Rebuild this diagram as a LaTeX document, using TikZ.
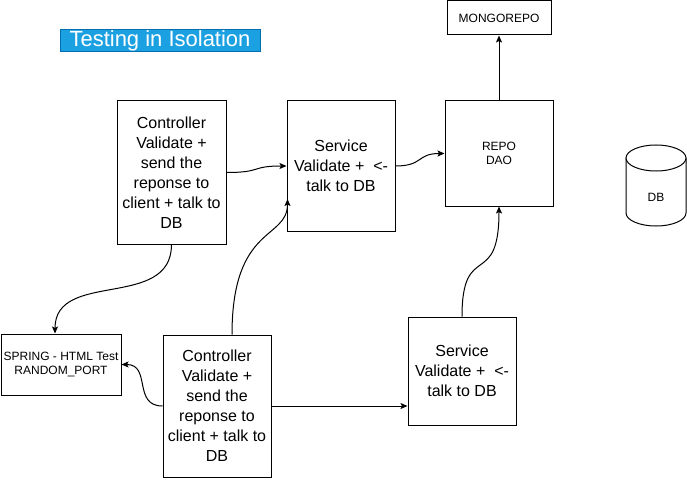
\documentclass[tikz,border=0pt]{standalone}
\usepackage{fontspec}
\setmainfont{Liberation Sans}
\usetikzlibrary{arrows.meta,calc}
\definecolor{titleblue}{HTML}{1BA1E2}
\definecolor{titleborder}{HTML}{006EAF}
\begin{document}
\begin{tikzpicture}[x=1pt,y=-1pt,
 box/.style={draw=black,line width=1pt,inner sep=0pt,align=center,fill=white},
 fbig/.style={font=\fontsize{16}{20}\selectfont},
 fsmall/.style={font=\fontsize{12}{14.4}\selectfont},
 conn/.style={draw=black,line width=1pt,-{Stealth[length=7pt,width=6pt,inset=1.5pt]}},
]
\useasboundingbox[fill=white] (0,0) rectangle (687,481);

\node[fill=titleblue,draw=titleborder,line width=1pt,minimum width=200pt,minimum height=22pt,inner sep=0pt,text=white,font=\fontsize{22}{24}\selectfont] (title) at (160,41) {Testing in Isolation};

\node[box,fsmall,minimum width=104pt,minimum height=34pt] (mongo) at (499,18) {MONGOREPO};
\node[box,fsmall,minimum width=108pt,minimum height=105pt] (repo) at (499,153.5) {REPO\\DAO};
\node[box,fbig,minimum width=109pt,minimum height=143pt] (ctrl1) at (171.5,172.5) {Controller\\Validate +\\send the\\reponse to\\client + talk to\\DB};
\node[box,fbig,minimum width=108pt,minimum height=130pt] (svc1) at (341,166) {Service\\Validate +~~<-\\talk to DB};
\node[box,fsmall,minimum width=120pt,minimum height=61pt] (spring) at (61,364.5) {SPRING - HTML Test\\RANDOM\_PORT};
\node[box,fbig,minimum width=108pt,minimum height=142pt] (ctrl2) at (217,406) {Controller\\Validate +\\send the\\reponse to\\client + talk to\\DB};
\node[box,fbig,minimum width=108pt,minimum height=108pt] (svc2) at (462,371) {Service\\Validate +~~<-\\talk to DB};

% database cylinder
\draw[line width=1pt,fill=white] (626,158) -- (626,213) arc[start angle=180,end angle=360,x radius=30pt,y radius=13pt] -- (686,158);
\draw[line width=1pt,fill=white] (656,158) ellipse [x radius=30pt,y radius=13pt];
\node[fsmall] (db) at (656,197) {DB};

% connectors
\draw[conn] (ctrl1.east) .. controls +(36,0) and +(-36,0) .. (svc1.west);
\draw[conn] (svc1.east) .. controls +(28,0) and +(-28,0) .. (repo.west);
\draw[conn] (repo.north) -- (mongo.south);
\draw[conn] (ctrl1.south) .. controls +(0,66) and +(0,-64) .. ([xshift=-6pt]spring.north);
\draw[conn] ([xshift=15pt]ctrl2.north) .. controls +(0,-110) and +(0,41) .. ([xshift=1pt,yshift=-33pt]svc1.west);
\draw[conn] (ctrl2.west) .. controls +(-30,0) and +(30,0) .. (spring.east);
\draw[conn] (ctrl2.east) -- (svc2.west |- ctrl2.east);
\draw[conn] (svc2.north) .. controls +(0,-77) and +(0,84) .. (repo.south);
\end{tikzpicture}
\end{document}
